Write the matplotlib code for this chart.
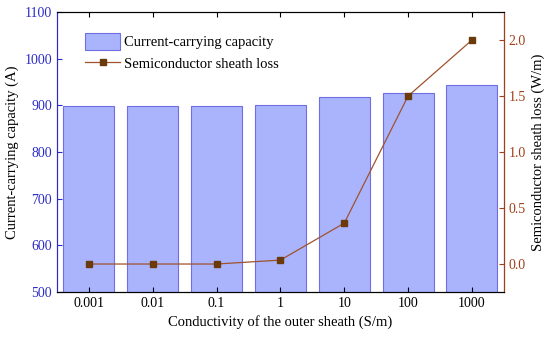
import numpy as np
import matplotlib
matplotlib.use('Agg')
import matplotlib.pyplot as plt

plt.rcParams['font.family'] = ['Liberation Serif', 'DejaVu Serif']

# Data
conductivity = ['0.001', '0.01', '0.1', '1', '10', '100', '1000']
capacity = [898, 898, 898, 900, 917, 926, 943]          # A
sheath_loss = [0.0, 0.0, 0.0, 0.035, 0.365, 1.5, 2.0]   # W/m

bar_face = '#aab4fc'
bar_edge = '#6f6fe0'
line_color = '#a0522d'
marker_color = '#6b3a0a'
left_color = '#2b2bc8'
right_color = '#a0401a'

fig = plt.figure(figsize=(5.5, 3.37), dpi=100)
ax = fig.add_axes([0.1036, 0.1335, 0.8124, 0.8305])
x = np.arange(len(conductivity))

bars = ax.bar(x, capacity, width=0.8, color=bar_face, edgecolor=bar_edge,
              linewidth=0.8, label='Current-carrying capacity')
ax.set_ylim(500, 1100)
ax.set_xlim(-0.5, len(conductivity) - 0.5)
ax.set_yticks(np.arange(500, 1101, 100))
ax.set_xticks(x)
ax.set_xticklabels(conductivity)
ax.tick_params(axis='both', direction='in', labelsize=10, top=True)
ax.tick_params(axis='y', colors=left_color, labelcolor=left_color)
ax.tick_params(axis='x', colors='black')
ax.spines['left'].set_color(left_color)
ax.set_xlabel('Conductivity of the outer sheath (S/m)', fontsize=10.5)
ax.set_ylabel('Current-carrying capacity (A)', fontsize=10.5)

ax2 = ax.twinx()
line, = ax2.plot(x, sheath_loss, color=line_color, linewidth=0.9, marker='s',
                 markersize=4.5, markerfacecolor=marker_color,
                 markeredgecolor=marker_color, label='Semiconductor sheath loss')
ax2.set_ylim(-0.25, 2.25)
ax2.set_yticks([0.0, 0.5, 1.0, 1.5, 2.0])
ax2.set_yticklabels(['0.0', '0.5', '1.0', '1.5', '2.0'])
ax2.tick_params(axis='y', direction='in', labelsize=10, colors=right_color,
                labelcolor=right_color)
ax2.spines['right'].set_color(right_color)
ax2.spines['left'].set_color(left_color)
ax2.set_ylabel('Semiconductor sheath loss (W/m)', fontsize=10.5)

ax.legend(handles=[bars, line], loc='upper left', bbox_to_anchor=(0.063, 0.926),
          frameon=False, fontsize=10.5, handlelength=2.4, handleheight=1.4,
          handletextpad=0.25, labelspacing=0.38, borderpad=0, borderaxespad=0)

fig.savefig('out.png', dpi=100)
